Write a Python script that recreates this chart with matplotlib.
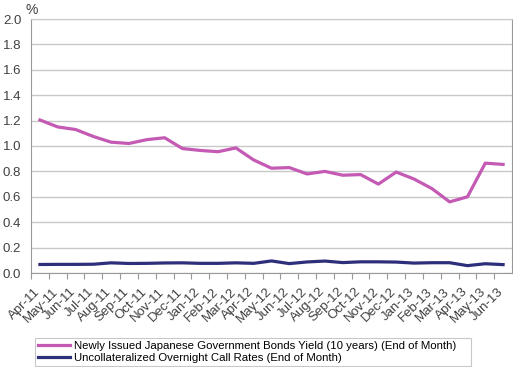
import matplotlib
matplotlib.use("Agg")
import matplotlib.pyplot as plt
import matplotlib.transforms as mtransforms
import numpy as np

plt.rcParams['font.family'] = ['Liberation Sans', 'DejaVu Sans']

months = ['Apr-11', 'May-11', 'Jun-11', 'Jul-11', 'Aug-11', 'Sep-11', 'Oct-11',
          'Nov-11', 'Dec-11', 'Jan-12', 'Feb-12', 'Mar-12', 'Apr-12', 'May-12',
          'Jun-12', 'Jul-12', 'Aug-12', 'Sep-12', 'Oct-12', 'Nov-12', 'Dec-12',
          'Jan-13', 'Feb-13', 'Mar-13', 'Apr-13', 'May-13', 'Jun-13']

# 10-year JGB yield, end of month (%)
jgb_yield = [1.205, 1.150, 1.130, 1.075, 1.030, 1.020, 1.050, 1.065, 0.980,
             0.965, 0.955, 0.985, 0.890, 0.825, 0.830, 0.780, 0.800, 0.770,
             0.775, 0.700, 0.795, 0.740, 0.665, 0.560, 0.600, 0.865, 0.855]

# uncollateralized overnight call rate, end of month (%)
call_rate = [0.067, 0.068, 0.068, 0.069, 0.080, 0.075, 0.076, 0.079, 0.080,
             0.076, 0.076, 0.080, 0.076, 0.095, 0.074, 0.087, 0.094, 0.082,
             0.088, 0.088, 0.086, 0.078, 0.081, 0.081, 0.058, 0.073, 0.066]

W, H = 513, 367
fig = plt.figure(figsize=(W / 100, H / 100), dpi=100)
ax = fig.add_axes([31 / W, 1 - 273 / H, 481 / W, 254 / H])

x = np.arange(len(months))
ax.plot(x, jgb_yield, color='#C45AB3', lw=2.3, solid_joinstyle='round',
        label='Newly Issued Japanese Government Bonds Yield (10 years) (End of Month)')
ax.plot(x, call_rate, color='#2E2F7A', lw=2.3, solid_joinstyle='round',
        label='Uncollateralized Overnight Call Rates (End of Month)')

ax.set_xlim(-0.5, len(months) - 0.5)
ax.set_ylim(0, 2.0)
yt = np.arange(0, 2.01, 0.2)
ax.set_yticks(yt)
ax.set_yticklabels([f'{v:.1f}' for v in yt])
ax.yaxis.grid(True, color='#C8C8C8', lw=1)
ax.set_axisbelow(True)
ax.tick_params(axis='y', length=0, pad=7, labelsize=9.5, colors='#404040')

# tick marks at category boundaries, labels at category centres
ax.set_xticks(x - 0.5)
ax.set_xticklabels([])
ax.set_xticks(x, minor=True)
ax.set_xticklabels(months, minor=True, rotation=45, ha='right',
                   rotation_mode='anchor', fontsize=9.5, color='#404040')
ax.tick_params(axis='x', which='major', length=4, color='#999999', direction='out')
ax.tick_params(axis='x', which='minor', length=0, pad=9)
shift = mtransforms.ScaledTranslation(-6 / 100, 0, fig.dpi_scale_trans)
for lbl in ax.get_xticklabels(minor=True):
    lbl.set_transform(lbl.get_transform() + shift)

for side in ['left', 'bottom', 'right']:
    ax.spines[side].set_color('#999999')
ax.spines['top'].set_color('#C8C8C8')

fig.text(26 / W, 1 - 10 / H, '%', fontsize=10, color='#404040', va='center')

leg = ax.legend(loc='upper left', bbox_to_anchor=(35 / W, 1 - 367 / H, 436 / W, 29.5 / H),
                bbox_transform=fig.transFigure, mode='expand', fontsize=8.2,
                frameon=True, fancybox=False, edgecolor='#BBBBBB', handlelength=2.8,
                handletextpad=0.3, borderpad=0.3, labelspacing=0.15,
                borderaxespad=0)
leg.get_frame().set_linewidth(0.8)

fig.savefig('out.png', dpi=100)
